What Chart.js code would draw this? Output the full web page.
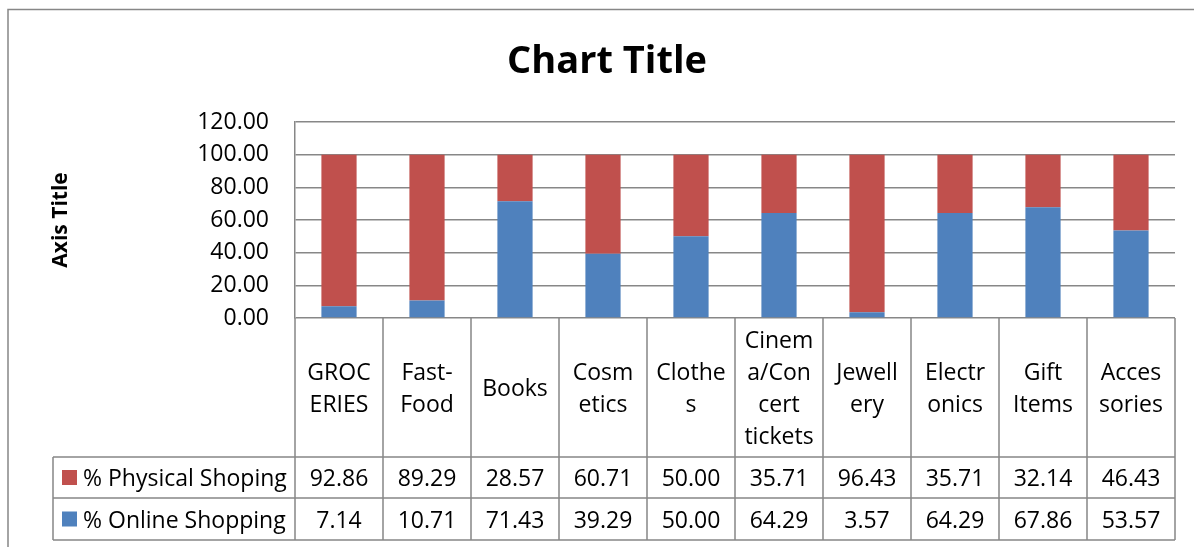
<!DOCTYPE html>
<html>
<head>
<meta charset="utf-8">
<script src="https://cdn.jsdelivr.net/npm/chart.js@4/dist/chart.umd.min.js"></script>
<style>
  html, body { margin: 0; padding: 0; background: #fff; }
  #wrap { width: 1194px; height: 547px; position: relative; }
</style>
</head>
<body>
<div id="wrap"><canvas id="myChart"></canvas></div>
<script>
// categories as they wrap in the data table cells
const categories = ['GROCERIES', 'Fast-Food', 'Books', 'Cosmetics', 'Clothes', 'Cinema/Concert tickets', 'Jewellery', 'Electronics', 'Gift Items', 'Accesories'];
const categoryLines = [
    ['GROC', 'ERIES'], ['Fast-', 'Food'], ['Books'], ['Cosm', 'etics'], ['Clothe', 's'],
    ['Cinem', 'a/Con', 'cert', 'tickets'], ['Jewell', 'ery'], ['Electr', 'onics'], ['Gift', 'Items'], ['Acces', 'sories']
];
const physicalShopping = [92.86, 89.29, 28.57, 60.71, 50.00, 35.71, 96.43, 35.71, 32.14, 46.43];
const onlineShopping = [7.14, 10.71, 71.43, 39.29, 50.00, 64.29, 3.57, 64.29, 67.86, 53.57];
const yTicks = [0, 20, 40, 60, 80, 100, 120];

const FONT = '"Open Sans", sans-serif';
const lineGrey = '#878787';
const red = '#C0504D';
const blue = '#4F81BD';

// draws the border, title, axis title and the data table under the plot
const tablePlugin = {
    id: 'dataTable',
    beforeDraw(chart) {
        const ctx = chart.ctx;
        ctx.save();
        ctx.strokeStyle = lineGrey;
        ctx.lineWidth = 1.5;
        ctx.beginPath();
        ctx.moveTo(8, 547);
        ctx.lineTo(8, 9.5);
        ctx.lineTo(1194, 9.5);
        ctx.stroke();
        ctx.restore();
    },
    afterDraw(chart) {
        const ctx = chart.ctx;
        const area = chart.chartArea;
        const x = chart.scales.x;
        const n = categories.length;
        const colW = (area.right - area.left) / n;
        const rowTop = area.bottom, row1 = 457, row2 = 498, row3 = 540, legendLeft = 53;

        ctx.save();
        // title
        ctx.fillStyle = '#000';
        ctx.textAlign = 'center';
        ctx.textBaseline = 'middle';
        ctx.font = 'bold 38px ' + FONT;
        ctx.fillText('Chart Title', 607, 62);

        // axis title
        ctx.save();
        ctx.translate(61, 220);
        ctx.rotate(-Math.PI / 2);
        ctx.font = 'bold 21px ' + FONT;
        ctx.fillText('Axis Title', 0, 0);
        ctx.restore();

        // table grid
        ctx.strokeStyle = lineGrey;
        ctx.lineWidth = 1.5;
        ctx.beginPath();
        for (let i = 0; i <= n; i++) {
            const cx = area.left + i * colW;
            ctx.moveTo(cx, rowTop);
            ctx.lineTo(cx, row3);
        }
        [row1, row2, row3].forEach(y => {
            ctx.moveTo(legendLeft, y);
            ctx.lineTo(area.right, y);
        });
        ctx.moveTo(legendLeft, row1);
        ctx.lineTo(legendLeft, row3);
        ctx.stroke();

        // category labels
        ctx.font = '23px ' + FONT;
        ctx.fillStyle = '#000';
        const lineH = 32;
        const midCat = (rowTop + row1) / 2 + 2;
        categoryLines.forEach((lines, i) => {
            const cx = x.getPixelForValue(i);
            const start = midCat - (lines.length - 1) * lineH / 2;
            lines.forEach((t, j) => ctx.fillText(t, cx, start + j * lineH));
        });

        // value rows
        const rows = [
            { label: '% Physical Shoping', color: red, values: physicalShopping, y: (row1 + row2) / 2 },
            { label: '% Online Shopping', color: blue, values: onlineShopping, y: (row2 + row3) / 2 }
        ];
        rows.forEach(r => {
            ctx.fillStyle = r.color;
            ctx.fillRect(62, r.y - 7.5, 15, 15);
            ctx.fillStyle = '#000';
            ctx.textAlign = 'left';
            ctx.fillText(r.label, 83, r.y + 2);
            ctx.textAlign = 'center';
            r.values.forEach((v, i) => ctx.fillText(v.toFixed(2), x.getPixelForValue(i), r.y + 2));
        });
        ctx.restore();
    }
};

const ctx = document.getElementById('myChart').getContext('2d');
new Chart(ctx, {
    type: 'bar',
    data: {
        labels: categories,
        datasets: [
            { label: '% Online Shopping', data: onlineShopping, backgroundColor: blue },
            { label: '% Physical Shoping', data: physicalShopping, backgroundColor: red }
        ]
    },
    options: {
        responsive: true,
        maintainAspectRatio: false,
        animation: false,
        layout: { padding: { top: 122, right: 19, bottom: 229, left: 0 } },
        datasets: { bar: { barPercentage: 0.4, categoryPercentage: 1.0 } },
        plugins: { legend: { display: false }, title: { display: false }, tooltip: { enabled: false } },
        scales: {
            x: { stacked: true, display: false },
            y: {
                stacked: true,
                min: 0,
                max: 120,
                afterFit(scale) { scale.width = 295; },
                afterBuildTicks(scale) { scale.ticks = yTicks.map(v => ({ value: v })); },
                ticks: {
                    padding: 26,
                    color: '#000',
                    font: { family: FONT, size: 23 },
                    callback: v => Number(v).toFixed(2)
                },
                grid: { color: lineGrey, lineWidth: 1.5, drawTicks: false },
                border: { display: true, color: lineGrey, width: 1.5 }
            }
        }
    },
    plugins: [tablePlugin]
});
</script>
</body>
</html>
